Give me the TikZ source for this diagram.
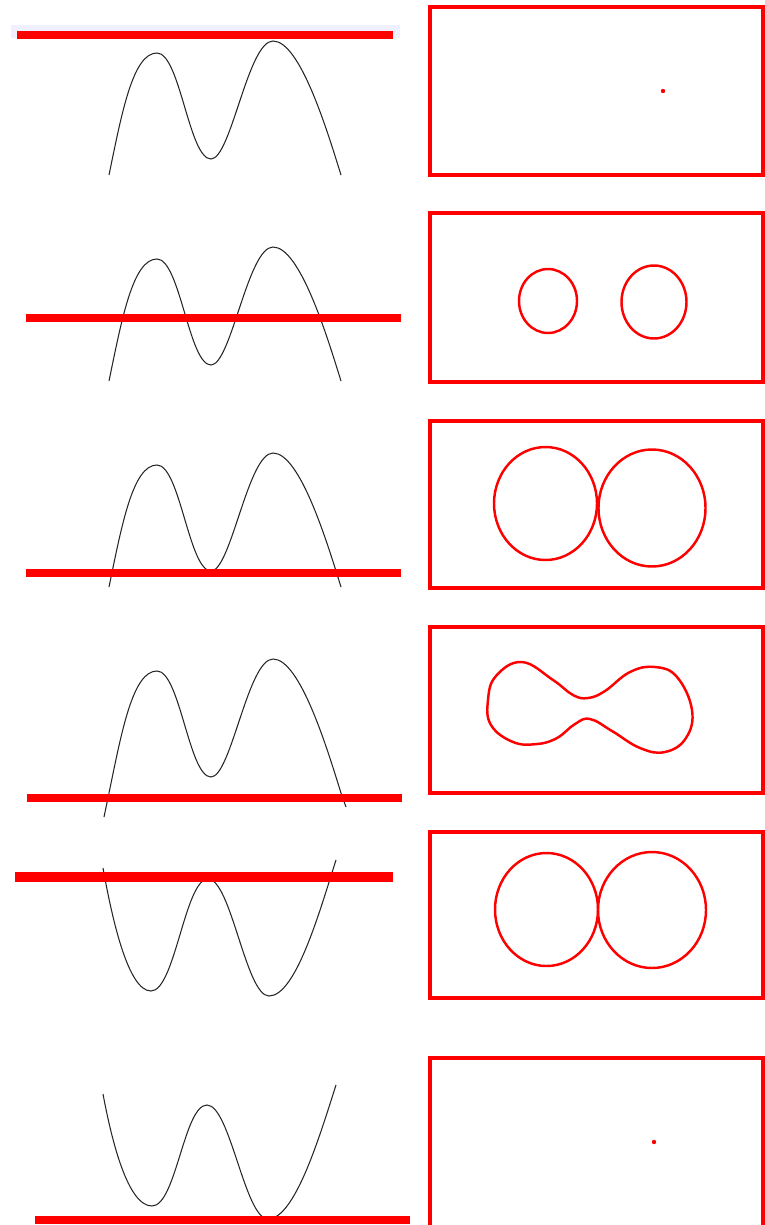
\documentclass[tikz,border=0pt]{standalone}
\usepackage{tikz}
\usetikzlibrary{calc,positioning}

\begin{document}
\begin{tikzpicture}[x=0.03cm,y=-0.03cm,
levelline/.style={red,line width=6.8pt},
wavecurve/.style={black!85,line width=0.9pt},
panelframe/.style={red,line width=3pt},
levelset/.style={red,line width=2.1pt}]
\useasboundingbox (0,0) rectangle (765,1225);
\fill[blue!6] (11,25) rectangle (400,38);
% left column: curves and cutting levels
\foreach \dy in {0,206,412}{
\begin{scope}[shift={(0,\dy)}]
\draw[wavecurve] (109,175) .. controls (122,112) and (133,53) .. (157,53)
  .. controls (180,53) and (189,159) .. (211,159)
  .. controls (231,159) and (248,41) .. (273,41)
  .. controls (300,41) and (327,130) .. (341,175);
\end{scope}
}
\begin{scope}[shift={(0,618)}]
\draw[wavecurve] (104,199) -- (109,175) .. controls (122,112) and (133,53) .. (157,53)
  .. controls (180,53) and (189,159) .. (211,159)
  .. controls (231,159) and (248,41) .. (273,41)
  .. controls (300,41) and (327,130) .. (341,175) -- (346,189);
\end{scope}
\draw[wavecurve] (103,868) .. controls (112,918) and (128,991) .. (151,991)
  .. controls (175,991) and (185,879) .. (208,879)
  .. controls (231,879) and (246,996) .. (269,996)
  .. controls (296,996) and (320,910) .. (336,860);
\draw[wavecurve] (103,1094) .. controls (112,1142) and (128,1206) .. (152,1206)
  .. controls (176,1206) and (184,1105) .. (207,1105)
  .. controls (230,1105) and (245,1219) .. (268,1219)
  .. controls (295,1219) and (320,1135) .. (336,1085);
\coordinate (L1a) at (17,35);   \coordinate (L1b) at (393,35);
\coordinate (L2a) at (26,318);  \coordinate (L2b) at (401,318);
\coordinate (L3a) at (26,573);  \coordinate (L3b) at (401,573);
\coordinate (L4a) at (27,798);  \coordinate (L4b) at (402,798);
\coordinate (L5a) at (15,877);  \coordinate (L5b) at (393,877);
\coordinate (L6a) at (35,1220); \coordinate (L6b) at (410,1220);
\draw[levelline] (L1a)--(L1b);
\draw[levelline] (L2a)--(L2b);
\draw[levelline] (L3a)--(L3b);
\draw[levelline] (L4a)--(L4b);
\draw[levelline,line width=8pt] (L5a)--(L5b);
\draw[levelline] (L6a)--(L6b);
% right column: level sets
\draw[panelframe] (430,7) rectangle (763,175);
\draw[panelframe] (430,213) rectangle (763,382);
\draw[panelframe] (430,421) rectangle (763,588);
\draw[panelframe] (430,627) rectangle (763,793);
\draw[panelframe] (430,832) rectangle (763,998);
\draw[panelframe] (430,1058) rectangle (763,1240);
\fill[red] (663,91) circle [radius=2.2];
\fill[red] (654,1142) circle [radius=2.2];
\draw[levelset] (548,301) ellipse [x radius=29,y radius=32];
\draw[levelset] (654,302) ellipse [x radius=32.5,y radius=36.5];
\draw[levelset] (545.5,503.5) ellipse [x radius=51.5,y radius=56.5];
\draw[levelset] (652,508) ellipse [x radius=53.5,y radius=58.5];
\draw[levelset] plot[smooth cycle,tension=0.7] coordinates {(488,700) (496,676) (522,662) (553,680) (573,695) (588,698) (605,691) (630,672) (655,667) (677,677) (692,710) (686,738) (665,752) (640,748) (612,731) (590,719) (575,724) (557,738) (537,744) (513,742) (491,725)};
\draw[levelset] (546.5,909.5) ellipse [x radius=51.5,y radius=56.5];
\draw[levelset] (652,910) ellipse [x radius=54,y radius=58];
\end{tikzpicture}
\end{document}
